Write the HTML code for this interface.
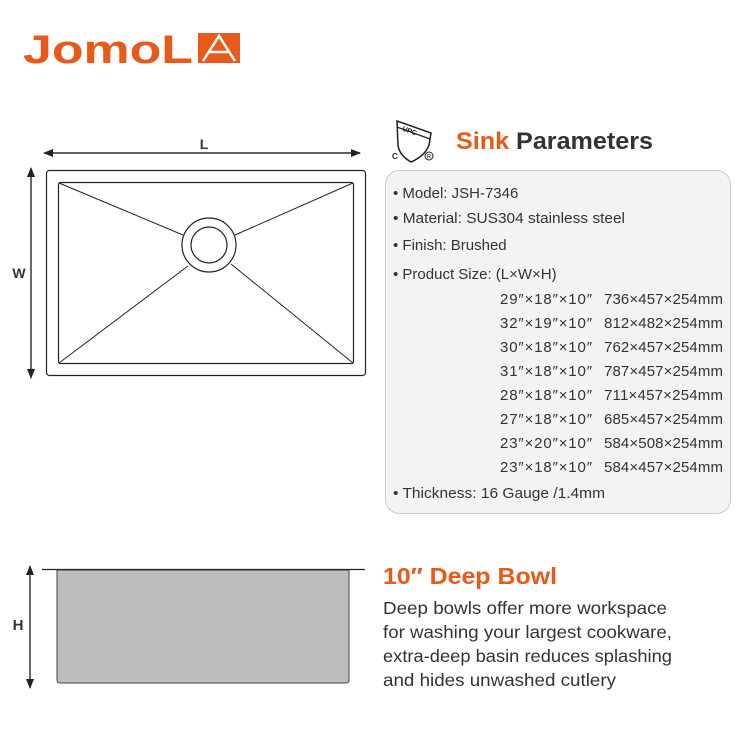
<!DOCTYPE html>
<html><head><meta charset="utf-8"><style>
body{margin:0;background:#fff;width:750px;height:750px;overflow:hidden;font-family:"Liberation Sans",sans-serif}
</style></head><body>
<svg width="750" height="750" viewBox="0 0 750 750" xmlns="http://www.w3.org/2000/svg" font-family="Liberation Sans, sans-serif">
<defs>
<marker id="ah" markerWidth="10" markerHeight="8" refX="9" refY="4" orient="auto" markerUnits="userSpaceOnUse"><path d="M0,0 L10,4 L0,8z" fill="#222"/></marker>
</defs>
<!-- logo -->
<text x="23" y="63" font-size="40" fill="#e8591a" font-weight="bold" textLength="170" lengthAdjust="spacingAndGlyphs">JomoL</text>
<rect x="198" y="33" width="42" height="30" fill="#e8591a"/>
<path d="M203,61 L219,36 L235,61 M209,52 L229,52" stroke="#fff" stroke-width="2.5" fill="none"/>
<!-- top view -->
<line x1="50" y1="153" x2="360" y2="153" stroke="#222" stroke-width="1.2" marker-end="url(#ah)" />
<line x1="360" y1="153" x2="44" y2="153" stroke="#222" stroke-width="1.2" marker-end="url(#ah)" />
<text x="204" y="149" font-size="14" font-weight="bold" fill="#333" text-anchor="middle">L</text>
<line x1="31" y1="176" x2="31" y2="378" stroke="#222" stroke-width="1.2" marker-end="url(#ah)"/>
<line x1="31" y1="370" x2="31" y2="168" stroke="#222" stroke-width="1.2" marker-end="url(#ah)"/>
<text x="19" y="278" font-size="14" font-weight="bold" fill="#333" text-anchor="middle">W</text>
<rect x="46.5" y="170.5" width="319" height="205" rx="3" fill="#fff" stroke="#222" stroke-width="1.2"/>
<rect x="58.5" y="182.5" width="295" height="181" rx="2" fill="#fff" stroke="#222" stroke-width="1.2"/>
<g stroke="#222" stroke-width="1">
<line x1="59" y1="183" x2="183" y2="235"/><line x1="353" y1="183" x2="235" y2="235"/>
<line x1="59" y1="363" x2="188" y2="266"/><line x1="353" y1="363" x2="231" y2="264"/>
</g>
<circle cx="209" cy="245" r="27" fill="#fff" stroke="#222" stroke-width="1.2"/>
<circle cx="209" cy="245" r="18" fill="#fff" stroke="#222" stroke-width="1.2"/>
<!-- UPC -->
<path d="M397,121 L431,133 L429,145 Q425,156 411,162 Q399,155 398,145 Z" fill="#fff" stroke="#222" stroke-width="1.5"/>
<line x1="397" y1="127" x2="430" y2="139" stroke="#222" stroke-width="1.2"/>
<text x="402" y="134" font-size="7" font-weight="bold" fill="#222" transform="rotate(20 412 132)">UPC</text>
<text x="392" y="159" font-size="8" font-weight="bold" fill="#222">C</text>
<circle cx="429" cy="156" r="4" fill="none" stroke="#222" stroke-width="1"/>
<text x="429" y="158.5" font-size="6" fill="#222" text-anchor="middle">R</text>
<text x="456" y="149" font-size="24" font-weight="bold" textLength="197" lengthAdjust="spacingAndGlyphs"><tspan fill="#e8591a">Sink</tspan><tspan fill="#333"> Parameters</tspan></text>
<rect x="385.5" y="170.5" width="345" height="343" rx="14" fill="#f3f3f3" stroke="#ccc" stroke-width="1"/>
<g font-size="15" fill="#333">
<text x="393" y="198">• Model: JSH-7346</text>
<text x="393" y="223" textLength="232" lengthAdjust="spacingAndGlyphs">• Material: SUS304 stainless steel</text>
<text x="393" y="250">• Finish: Brushed</text>
<text x="393" y="279">• Product Size: (L×W×H)</text>
<g>
<text x="500" y="304" textLength="92">29″×18″×10″</text><text x="604" y="304" textLength="119">736×457×254mm</text>
<text x="500" y="328" textLength="92">32″×19″×10″</text><text x="604" y="328" textLength="119">812×482×254mm</text>
<text x="500" y="352" textLength="92">30″×18″×10″</text><text x="604" y="352" textLength="119">762×457×254mm</text>
<text x="500" y="376" textLength="92">31″×18″×10″</text><text x="604" y="376" textLength="119">787×457×254mm</text>
<text x="500" y="400" textLength="92">28″×18″×10″</text><text x="604" y="400" textLength="119">711×457×254mm</text>
<text x="500" y="424" textLength="92">27″×18″×10″</text><text x="604" y="424" textLength="119">685×457×254mm</text>
<text x="500" y="448" textLength="92">23″×20″×10″</text><text x="604" y="448" textLength="119">584×508×254mm</text>
<text x="500" y="472" textLength="92">23″×18″×10″</text><text x="604" y="472" textLength="119">584×457×254mm</text>
</g>
<text x="393" y="498" textLength="212" lengthAdjust="spacingAndGlyphs">• Thickness: 16 Gauge /1.4mm</text>
</g>
<!-- side view -->
<path d="M57,570 L349,570 L349,680 Q349,683 346,683 L60,683 Q57,683 57,680 Z" fill="#bdbdbd" stroke="#444" stroke-width="1"/>
<line x1="42" y1="569.5" x2="365" y2="569.5" stroke="#222" stroke-width="1.2"/>
<line x1="30" y1="576" x2="30" y2="688" stroke="#222" stroke-width="1.2" marker-end="url(#ah)"/>
<line x1="30" y1="680" x2="30" y2="566" stroke="#222" stroke-width="1.2" marker-end="url(#ah)"/>
<text x="18" y="630" font-size="15" font-weight="bold" fill="#333" text-anchor="middle">H</text>
<text x="383" y="584" font-size="23" font-weight="bold" fill="#e8591a" textLength="174" lengthAdjust="spacingAndGlyphs">10″ Deep Bowl</text>
<g font-size="17.5" fill="#333">
<text x="383" y="614" textLength="284" lengthAdjust="spacingAndGlyphs">Deep bowls offer more workspace</text>
<text x="383" y="638" textLength="289" lengthAdjust="spacingAndGlyphs">for washing your largest cookware,</text>
<text x="383" y="662" textLength="289" lengthAdjust="spacingAndGlyphs">extra-deep basin reduces splashing</text>
<text x="383" y="686" textLength="233" lengthAdjust="spacingAndGlyphs">and hides unwashed cutlery</text>
</g>
</svg>
</body></html>
